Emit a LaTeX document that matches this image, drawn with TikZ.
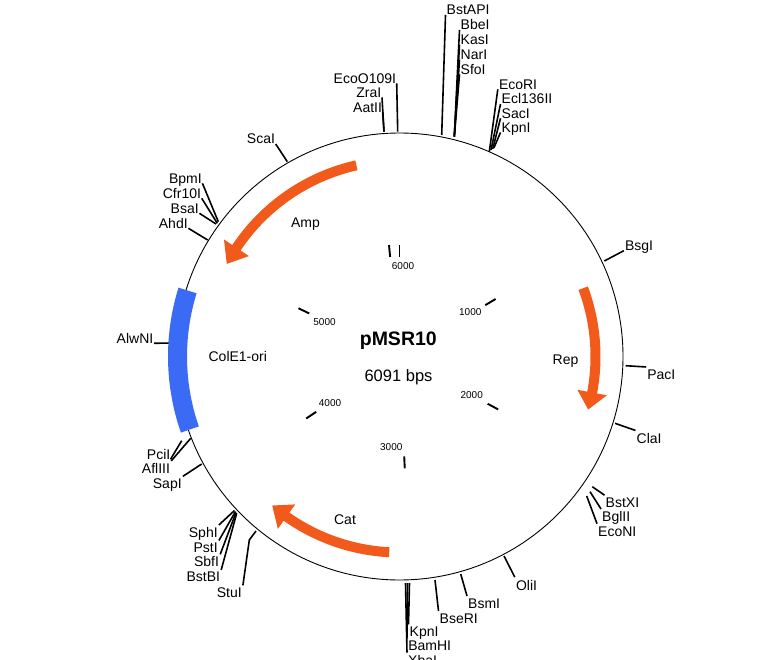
\documentclass[tikz,border=0pt]{standalone}
\usepackage{fontspec}
\setmainfont{Liberation Sans}
\usetikzlibrary{calc}
\definecolor{geneorange}{RGB}{241,90,27}
\definecolor{oriblue}{RGB}{59,107,245}
\tikzset{
  lab/.style={inner sep=0pt,font=\fontsize{14}{16}\selectfont},
  leader/.style={line width=1.6pt},
  bptick/.style={line width=1.9pt},
  bplab/.style={inner sep=0pt,font=\fontsize{10}{12}\selectfont}
}

\begin{document}
\begin{tikzpicture}[x=1pt,y=-1pt]
\useasboundingbox (0,0) rectangle (759,660);
\clip (0,0) rectangle (759,660);
\coordinate (c) at (399.5,356.5);

% sites on the backbone
\foreach \n/\x/\y in {bstapi/441.7/135, bbei/454.3/136.7, kasi/454.3/136.7, nari/454.3/136.7, sfoi/454.3/136.7,
    ecoo/397.7/131.7, zrai/384/131.7, aatii/384/131.7,
    ecori/489.3/151.7, ecl/491/150, saci/492.7/149, kpni/494/147.7,
    scai/287.3/161.7, bpmi/218.3/221.7, cfr/217.3/223.3, bsai/216/224, ahdi/207.7/240,
    alwni/176.4/342.9, pcii/181.7/440.7, afliii/190.7/438.3, sapi/201.7/464,
    sphi/234.5/510.5, psti/235.5/511.5, sbfi/236/512.5, bstbi/236.7/513.3, stui/256/531,
    kpnib/409.5/583, bamhi/407.5/583, xbai/405.5/583,
    bseri/435/580, bsmi/460.7/574, olii/504/556,
    bsgi/604.3/261, paci/625.7/365.7, clai/615/423.3,
    bstxi/592.3/486.7, bglii/590/491.7, econi/586.7/496}
  \coordinate (s-\n) at (\x,\y);

% enzyme labels, right side
\node[lab,anchor=base west] (bstapi) at (446.5,15) {BstAPI};
\node[lab,anchor=base west] (bbei) at (460.5,30) {BbeI};
\node[lab,anchor=base west] (kasi) at (460.5,44.8) {KasI};
\node[lab,anchor=base west] (nari) at (460.5,59.6) {NarI};
\node[lab,anchor=base west] (sfoi) at (460.5,74.4) {SfoI};
\node[lab,anchor=base west] (ecori) at (498.8,89.3) {EcoRI};
\node[lab,anchor=base west] (ecl) at (501.5,104) {Ecl136II};
\node[lab,anchor=base west] (saci) at (501.5,118.3) {SacI};
\node[lab,anchor=base west] (kpni) at (501.5,132.5) {KpnI};
\node[lab,anchor=base west] (bsgi) at (624.8,250.7) {BsgI};
\node[lab,anchor=base west] (paci) at (647.1,379.3) {PacI};
\node[lab,anchor=base west] (clai) at (636.5,443.3) {ClaI};
\node[lab,anchor=base west] (bstxi) at (605.5,507.5) {BstXI};
\node[lab,anchor=base west] (bglii) at (602,521.8) {BglII};
\node[lab,anchor=base west] (econi) at (598,536) {EcoNI};
\node[lab,anchor=base west] (olii) at (515.8,590) {OliI};
\node[lab,anchor=base west] (bsmi) at (468,608.3) {BsmI};
\node[lab,anchor=base west] (bseri) at (439.5,623.3) {BseRI};
\node[lab,anchor=base west] (kpnib) at (409.5,636.7) {KpnI};
\node[lab,anchor=base west] (bamhi) at (408.1,650.7) {BamHI};
\node[lab,anchor=base west] (xbai) at (408,665.5) {XbaI};

% enzyme labels, left side
\node[lab,anchor=base east] (ecoo) at (396.2,83.3) {EcoO109I};
\node[lab,anchor=base east] (zrai) at (381.5,97.5) {ZraI};
\node[lab,anchor=base east] (aatii) at (382.2,112.3) {AatII};
\node[lab,anchor=base east] (scai) at (275.2,144) {ScaI};
\node[lab,anchor=base east] (bpmi) at (201.9,183.3) {BpmI};
\node[lab,anchor=base east] (cfr) at (201.2,198.3) {Cfr10I};
\node[lab,anchor=base east] (bsai) at (198.9,213.3) {BsaI};
\node[lab,anchor=base east] (ahdi) at (187.9,228.3) {AhdI};
\node[lab,anchor=base east] (alwni) at (153.5,343.3) {AlwNI};
\node[lab,anchor=base east] (pcii) at (170.5,459.3) {PciI};
\node[lab,anchor=base east] (afliii) at (170.2,473.3) {AflIII};
\node[lab,anchor=base east] (sapi) at (181.9,488.3) {SapI};
\node[lab,anchor=base east] (sphi) at (217.9,537.3) {SphI};
\node[lab,anchor=base east] (psti) at (217.9,552.3) {PstI};
\node[lab,anchor=base east] (sbfi) at (219.2,566.7) {SbfI};
\node[lab,anchor=base east] (bstbi) at (220.2,581.7) {BstBI};
\node[lab,anchor=base east] (stui) at (241.9,597.3) {StuI};

% leaders
\foreach \n in {bstapi,bbei,kasi,nari,sfoi,ecori,ecl,saci,kpni,bsgi}
  \draw[leader] (s-\n) -- ([xshift=-1pt]\n.base west);
\foreach \n in {paci,clai,bstxi,bglii,econi,olii,bsmi,bseri,kpnib,bamhi,xbai}
  \draw[leader] (s-\n) -- ([xshift=-1pt,yshift=2.5pt]\n.north west);
\foreach \n in {ecoo,zrai,aatii,scai,bpmi,cfr,bsai,ahdi,alwni}
  \draw[leader] (s-\n) -- ([xshift=0.5pt]\n.base east);
\draw[leader] (s-pcii) -- (pcii.base east);
\foreach \n in {afliii,sapi,sphi,psti,sbfi,bstbi}
  \draw[leader] (s-\n) -- ([xshift=1pt,yshift=2pt]\n.north east);
\draw[leader] (s-stui) -- (249.3,540) -- ([xshift=1pt,yshift=2pt]stui.north east);

\begin{scope}[shift={(c)}]
  % backbone
  \draw[line width=0.9pt] (0,0) circle[radius=223.5];
  % ColE1 origin
  \fill[oriblue] (160.8:231.5) arc[start angle=160.8,end angle=197.3,radius=231.5]
    -- (197.3:212.5) arc[start angle=197.3,end angle=160.8,radius=212.5] -- cycle;
  % genes: tail / head base / tip
  \foreach \ta/\tb/\tc in {-102.7/-146.3/-151.8, -20.4/10.6/15.7, 93/125.2/130.5}
    \fill[geneorange] (\ta:201) arc[start angle=\ta,end angle=\tb,radius=201]
      -- (\tb:211) -- (\tc:196) -- (\tb:181) -- (\tb:191)
      arc[start angle=\tb,end angle=\ta,radius=191] -- cycle;
  % bp ticks
  \foreach \b in {0,1000,...,6000}
    \draw[bptick] ({\b/6091*360-90}:100) -- ({\b/6091*360-90}:112);
\end{scope}

\foreach \b/\x/\y in {1000/470.3/312.3, 2000/471.7/395, 3000/391.3/446.7,
    4000/330/402.7, 5000/324.5/321.7, 6000/403/266.3}
  \node[bplab] (bp\b) at (\x,\y) {\b};

% gene names
\node[lab,anchor=base] (amp) at (305.5,227.3) {Amp};
\node[lab,anchor=base] (rep) at (565.5,364) {Rep};
\node[lab,anchor=base] (cat) at (345,524.3) {Cat};
\node[lab,anchor=base] (ori) at (237.8,361.7) {ColE1-ori};

% plasmid name
\node[font=\bfseries\fontsize{19.5}{22}\selectfont,anchor=base] (name) at (398.3,345) {pMSR10};
\node[font=\fontsize{16.5}{19}\selectfont,anchor=base] (size) at (398.5,381.7) {6091 bps};
\end{tikzpicture}
\end{document}
